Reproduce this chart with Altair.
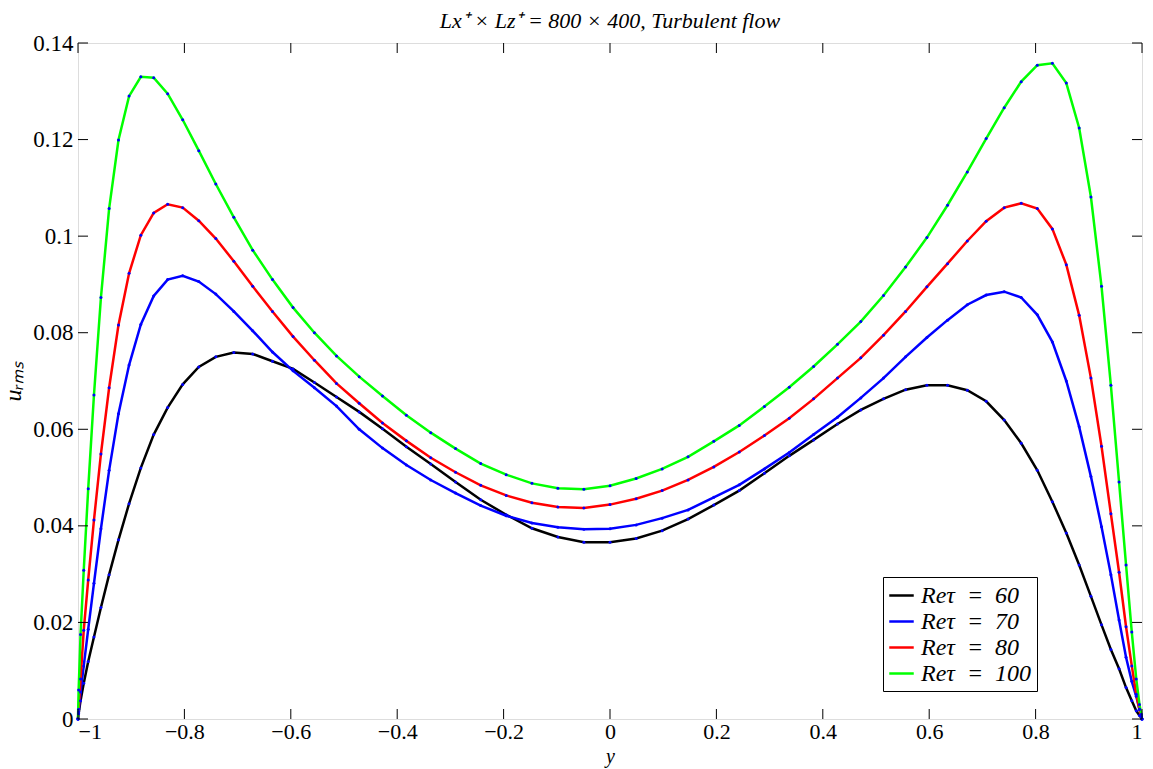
import altair as alt
import pandas as pd

# wall-normal coordinate (Chebyshev grid points)
y_grid = [-1.0, -0.9988, -0.9952, -0.9892, -0.9808, -0.9700, -0.9569, -0.9415, -0.9239, -0.9040,
          -0.8819, -0.8577, -0.8315, -0.8032, -0.7730, -0.7410, -0.7071, -0.6716, -0.6344, -0.5957,
          -0.5556, -0.5141, -0.4714, -0.4276, -0.3827, -0.3369, -0.2903, -0.2430, -0.1951, -0.1467,
          -0.0980, -0.0491, 0.0,
          0.0491, 0.0980, 0.1467, 0.1951, 0.2430, 0.2903, 0.3369, 0.3827, 0.4276, 0.4714,
          0.5141, 0.5556, 0.5957, 0.6344, 0.6716, 0.7071, 0.7410, 0.7730, 0.8032, 0.8315,
          0.8577, 0.8819, 0.9040, 0.9239, 0.9415, 0.9569, 0.9700, 0.9808, 0.9892, 0.9952,
          0.9988, 1.0]

re60 = [0.0, 0.0011, 0.0038, 0.0074, 0.0119, 0.0170, 0.0231, 0.0299, 0.0371, 0.0446,
        0.0520, 0.0589, 0.0645, 0.0693, 0.0729, 0.0750, 0.0759, 0.0756, 0.0741, 0.0725,
        0.0697, 0.0667, 0.0636, 0.0601, 0.0564, 0.0528, 0.0491, 0.0454, 0.0423, 0.0395,
        0.0377, 0.0366, 0.0366,
        0.0374, 0.0390, 0.0414, 0.0443, 0.0473, 0.0509, 0.0545, 0.0578, 0.0611, 0.0640,
        0.0663, 0.0682, 0.0691, 0.0691, 0.0681, 0.0658, 0.0619, 0.0571, 0.0515, 0.0450,
        0.0385, 0.0319, 0.0254, 0.0195, 0.0144, 0.0104, 0.0065, 0.0038, 0.0017, 0.0007,
        0.0002, 0.0]

re70 = [0.0, 0.0015, 0.0056, 0.0110, 0.0186, 0.0281, 0.0394, 0.0515, 0.0632, 0.0733,
        0.0817, 0.0876, 0.0910, 0.0918, 0.0906, 0.0880, 0.0844, 0.0804, 0.0760, 0.0721,
        0.0686, 0.0648, 0.0600, 0.0561, 0.0526, 0.0495, 0.0468, 0.0442, 0.0421, 0.0406,
        0.0397, 0.0393, 0.0394,
        0.0402, 0.0416, 0.0433, 0.0459, 0.0485, 0.0518, 0.0552, 0.0589, 0.0625, 0.0665,
        0.0706, 0.0750, 0.0790, 0.0826, 0.0858, 0.0878, 0.0885, 0.0873, 0.0837, 0.0781,
        0.0700, 0.0605, 0.0502, 0.0398, 0.0299, 0.0205, 0.0128, 0.0078, 0.0047, 0.0020,
        0.0005, 0.0]

re80 = [0.0, 0.0020, 0.0083, 0.0184, 0.0288, 0.0412, 0.0549, 0.0686, 0.0816, 0.0923,
        0.1002, 0.1048, 0.1066, 0.1059, 0.1032, 0.0995, 0.0948, 0.0896, 0.0844, 0.0792,
        0.0743, 0.0695, 0.0654, 0.0613, 0.0576, 0.0541, 0.0511, 0.0484, 0.0463, 0.0448,
        0.0439, 0.0437, 0.0444,
        0.0456, 0.0473, 0.0495, 0.0522, 0.0553, 0.0587, 0.0623, 0.0663, 0.0706, 0.0748,
        0.0795, 0.0844, 0.0895, 0.0943, 0.0990, 0.1031, 0.1059, 0.1068, 0.1057, 0.1015,
        0.0941, 0.0836, 0.0706, 0.0565, 0.0425, 0.0304, 0.0191, 0.0110, 0.0051, 0.0020,
        0.0005, 0.0]

re100 = [0.0, 0.0060, 0.0175, 0.0308, 0.0477, 0.0671, 0.0873, 0.1057, 0.1199, 0.1290,
         0.1330, 0.1328, 0.1295, 0.1241, 0.1177, 0.1108, 0.1039, 0.0971, 0.0910, 0.0852,
         0.0800, 0.0752, 0.0709, 0.0669, 0.0629, 0.0593, 0.0560, 0.0529, 0.0506, 0.0488,
         0.0478, 0.0476, 0.0483,
         0.0498, 0.0518, 0.0543, 0.0575, 0.0608, 0.0647, 0.0687, 0.0730, 0.0776, 0.0823,
         0.0877, 0.0936, 0.0997, 0.1064, 0.1133, 0.1202, 0.1266, 0.1320, 0.1354, 0.1358,
         0.1317, 0.1224, 0.1081, 0.0896, 0.0691, 0.0491, 0.0319, 0.0180, 0.0083, 0.0030,
         0.0010, 0.0]

series_labels = ["Reτ\u2002=\u200260", "Reτ\u2002=\u200270", "Reτ\u2002=\u200280", "Reτ\u2002=\u2002100"]
series_colors = ["#000000", "#0000ff", "#ff0000", "#00ff00"]
x_ticks = [-1, -0.8, -0.6, -0.4, -0.2, 0, 0.2, 0.4, 0.6, 0.8, 1]
y_ticks = [0, 0.02, 0.04, 0.06, 0.08, 0.1, 0.12, 0.14]

rows = []
for label, vals in zip(series_labels, [re60, re70, re80, re100]):
    for xv, uv in zip(y_grid, vals):
        rows.append({"y": xv, "u": uv, "series": label})
df = pd.DataFrame(rows)

W, H = 1064, 676
FONT = "Liberation Serif"
TL = 10  # inward tick length in px

xscale = alt.Scale(domain=[-1, 1], nice=False, zero=False)
yscale = alt.Scale(domain=[0, 0.14], nice=False, zero=False)

x_axis = alt.Axis(values=x_ticks, format="~g", ticks=False, domain=False, grid=False,
                  labelPadding=2, labelFontSize=22, labelFont=FONT, labelColor="#000",
                  title="y", titleFont=FONT, titleFontStyle="italic", titleFontWeight="normal",
                  titleFontSize=20, titleY=43, titleBaseline="alphabetic", titleColor="#000")
y_axis = alt.Axis(values=y_ticks, format="~g", ticks=False, domain=False, grid=False,
                  labelPadding=5, labelFontSize=23, labelFont=FONT, labelColor="#000",
                  title="uᵣₘₛ", titleFont=FONT, titleFontStyle="italic", titleFontWeight="normal",
                  titleFontSize=24, titlePadding=7, titleColor="#000")

lines = alt.Chart(df).mark_line(strokeWidth=2.5).encode(
    x=alt.X("y:Q", scale=xscale, axis=x_axis),
    y=alt.Y("u:Q", scale=yscale, axis=y_axis),
    color=alt.Color("series:N",
                    scale=alt.Scale(domain=series_labels, range=series_colors),
                    legend=alt.Legend(title=None, orient="none", legendX=805, legendY=534,
                                      symbolType="stroke", symbolSize=600, symbolStrokeWidth=2.5,
                                      labelFont=FONT, labelFontSize=24, labelFontStyle="italic",
                                      labelColor="#000", labelOffset=6, labelLimit=0,
                                      rowPadding=0, padding=5, strokeColor="#000",
                                      fillColor="#ffffff", cornerRadius=0)),
)

points = alt.Chart(df).mark_circle(size=9, color="#0000ff", opacity=1).encode(
    x=alt.X("y:Q"),
    y=alt.Y("u:Q"),
    detail="series:N",
)

xt = pd.DataFrame({"y": x_ticks})
yt = pd.DataFrame({"u": y_ticks})
xt_bottom = alt.Chart(xt).mark_rule(color="#000", strokeWidth=1).encode(
    x="y:Q", y=alt.value(H), y2=alt.value(H - TL))
xt_top = alt.Chart(xt).mark_rule(color="#000", strokeWidth=1).encode(
    x="y:Q", y=alt.value(0), y2=alt.value(TL))
yt_left = alt.Chart(yt).mark_rule(color="#000", strokeWidth=1).encode(
    y="u:Q", x=alt.value(0), x2=alt.value(TL))
yt_right = alt.Chart(yt).mark_rule(color="#000", strokeWidth=1).encode(
    y="u:Q", x=alt.value(W), x2=alt.value(W - TL))

chart = alt.layer(lines, points, xt_bottom, xt_top, yt_left, yt_right).properties(
    width=W, height=H,
    autosize=alt.AutoSizeParams(type="none"),
    padding={"left": 78, "top": 43, "right": 11, "bottom": 50},
    title=alt.Title("Lx⁺ × Lz⁺ = 800 × 400, Turbulent flow", font=FONT, fontSize=22,
                    fontStyle="italic", fontWeight="normal", color="#000", anchor="middle",
                    offset=-1),
).configure_view(stroke="#000", strokeWidth=1).configure(background="white")

chart.save("out.html", embed_options={"renderer": "svg", "actions": False})
